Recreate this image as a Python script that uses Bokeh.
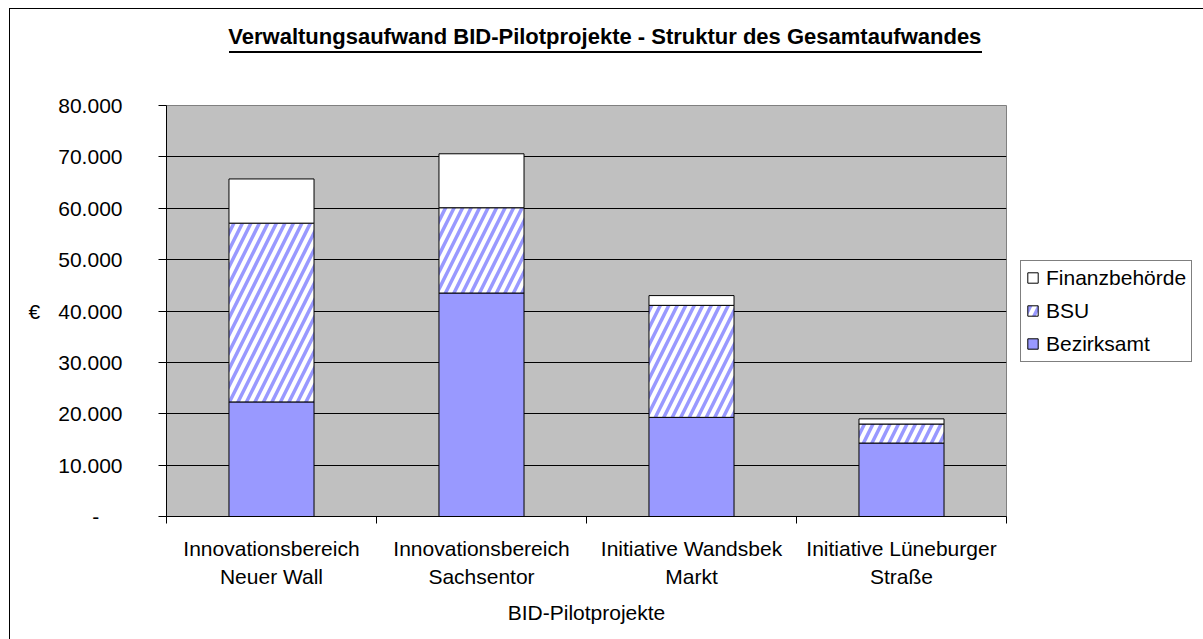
from bokeh.plotting import figure
from bokeh.models import (Range1d, FixedTicker, Legend, LegendItem, Label,
                          ColumnDataSource, LinearAxis)
from bokeh.embed import file_html
from bokeh.resources import INLINE

# ---- data ----
categories = ["Innovationsbereich\nNeuer Wall", "Innovationsbereich\nSachsentor",
              "Initiative Wandsbek\nMarkt", "Initiative Lüneburger\nStraße"]
series = ["Bezirksamt", "BSU", "Finanzbehörde"]
bezirksamt = [22300, 43500, 19300, 14300]
bsu = [34800, 16600, 21800, 3700]
finanzbehoerde = [8600, 10500, 1900, 1000]
y_ticks = [0, 10000, 20000, 30000, 40000, 50000, 60000, 70000, 80000]
title_text = "Verwaltungsaufwand BID-Pilotprojekte - Struktur des Gesamtaufwandes"
x_title = "BID-Pilotprojekte"
y_title = "€"

FONT = "Liberation Sans"
FS = "21px"

n = len(categories)
xs = [i + 0.5 for i in range(n)]
src = ColumnDataSource(dict(x=xs, Bezirksamt=bezirksamt, BSU=bsu,
                            Finanzbehörde=finanzbehoerde))

# chart-area border (left/top) and title underline drawn as page background
bg = ", ".join([
    "linear-gradient(#000,#000) 9px 8px / 1px 631px no-repeat",
    "linear-gradient(#000,#000) 9px 8px / 1194px 1px no-repeat",
    "linear-gradient(#000,#000) 229px 51px / 753px 2px no-repeat",
])

p = figure(frame_width=840, frame_height=411,
           x_range=Range1d(0, n), y_range=Range1d(0, y_ticks[-1]),
           output_backend="svg", toolbar_location=None,
           min_border_top=105, min_border_left=166, min_border_right=0,
           min_border_bottom=123,
           styles={"background": bg, "max-width": "1203px", "max-height": "639px",
                   "overflow": "hidden"})
p.background_fill_color = "#C0C0C0"
p.border_fill_color = "white"
p.border_fill_alpha = 0
p.outline_line_color = "#808080"
p.title.text = ""

rs = p.vbar_stack(series, x="x", width=0.405, source=src,
                  fill_color=["#9999FF", "white", "white"],
                  line_color="black", line_width=1,
                  hatch_pattern=[" ", "/", " "], hatch_color="#9999FF",
                  hatch_scale=17, hatch_weight=3.5)

xax = p.below[0]
yax = p.left[0]

# title as the label of a bare axis above the frame
tax = LinearAxis(ticker=FixedTicker(ticks=[], minor_ticks=[]),
                 axis_line_color=None, major_tick_line_color=None,
                 minor_tick_line_color=None, major_label_text_font_size="0px",
                 major_tick_out=0, minor_tick_out=0, major_label_standoff=0)
tax.axis_label = "\u00a0" * 6 + title_text
tax.axis_label_text_font = FONT
tax.axis_label_text_font_size = "22px"
tax.axis_label_text_font_style = "bold"
tax.axis_label_text_color = "black"
tax.axis_label_standoff = 57
p.add_layout(tax, "above")

# y axis
yax.ticker = FixedTicker(ticks=y_ticks, minor_ticks=[])
yax.major_label_overrides = {v: ("-\u00a0\u00a0\u00a0\u00a0" if v == 0 else f"{v:,}".replace(",", "."))
                             for v in y_ticks}
yax.major_label_text_font = FONT
yax.major_label_text_font_size = FS
yax.major_label_text_color = "black"
yax.major_tick_out = 8
yax.major_tick_in = 0
yax.minor_tick_out = 0
yax.minor_tick_in = 0
yax.major_label_standoff = 36
yax.axis_line_color = "black"
yax.major_tick_line_color = "black"

use_axis_label = False
try:
    yax.axis_label_orientation = "horizontal"
    use_axis_label = True
except Exception:
    use_axis_label = False
if use_axis_label:
    yax.axis_label = y_title
    yax.axis_label_text_font = FONT
    yax.axis_label_text_font_size = FS
    yax.axis_label_text_font_style = "normal"
    yax.axis_label_text_color = "black"
    yax.axis_label_standoff = 15
else:
    p.add_layout(Label(x=34, y=318, x_units="canvas", y_units="canvas", text=y_title,
                       text_font=FONT, text_font_size=FS, text_align="center",
                       text_baseline="middle", text_color="black"))

# x axis
xax.ticker = FixedTicker(ticks=xs, minor_ticks=list(range(n + 1)))
xax.major_label_overrides = {x: c for x, c in zip(xs, categories)}
xax.major_label_text_font = FONT
xax.major_label_text_font_size = FS
xax.major_label_text_color = "black"
xax.major_label_text_line_height = 1.25
xax.major_tick_out = 0
xax.major_tick_in = 0
xax.minor_tick_out = 7
xax.minor_tick_in = 0
xax.minor_tick_line_color = "black"
xax.major_label_standoff = 13
xax.axis_line_color = "black"
xax.axis_label = x_title
xax.axis_label_text_font = FONT
xax.axis_label_text_font_size = FS
xax.axis_label_text_font_style = "normal"
xax.axis_label_text_color = "black"
xax.axis_label_standoff = 10

p.xgrid.visible = False
p.ygrid.ticker = FixedTicker(ticks=y_ticks)
p.ygrid.grid_line_color = "black"
p.ygrid.grid_line_width = 1

legend = Legend(items=[LegendItem(label=s, renderers=[r]) for s, r in zip(series[::-1], rs[::-1])],
                location="left", orientation="vertical")
legend.label_text_font = FONT
legend.label_text_font_size = FS
legend.label_text_color = "black"
legend.glyph_width = 13
legend.glyph_height = 13
legend.label_height = 22
legend.label_standoff = 7
legend.spacing = 9
legend.padding = 5
legend.margin = 14
legend.border_line_color = "black"
legend.border_line_width = 1
legend.background_fill_color = "white"
legend.background_fill_alpha = 1
p.add_layout(legend, "right")

open("out.html", "w").write(file_html(p, INLINE))
